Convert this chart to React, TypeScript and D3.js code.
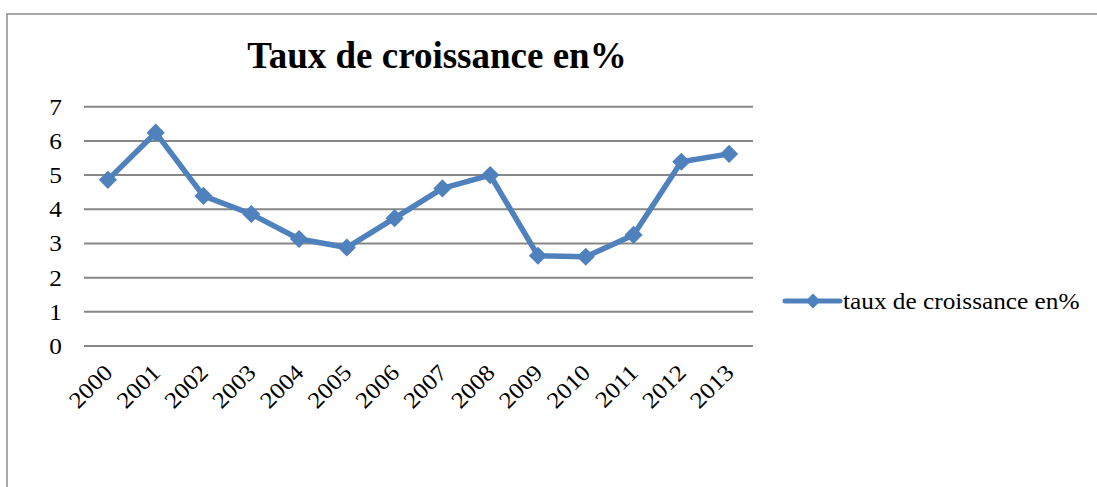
import { useEffect, useRef } from "react";
import * as d3 from "d3";

const years = ["2000", "2001", "2002", "2003", "2004", "2005", "2006", "2007", "2008", "2009", "2010", "2011", "2012", "2013"];
const growth = [4.86, 6.24, 4.39, 3.86, 3.13, 2.88, 3.74, 4.61, 5.0, 2.64, 2.61, 3.25, 5.39, 5.62];
const yTicks = [0, 1, 2, 3, 4, 5, 6, 7];
const title = "Taux de croissance en%";
const seriesName = "taux de croissance en%";

const W = 1097;
const H = 487;
const blue = "#4F81BD";
const font = "'Liberation Serif', 'Times New Roman', serif";

export default function App() {
  const ref = useRef<SVGSVGElement>(null);

  useEffect(() => {
    const svg = d3.select(ref.current);
    svg.selectAll("*").remove();

    const left = 84, right = 753, top = 106.7, bottom = 346;

    const x = d3.scaleBand().domain(years).range([left, right]);
    const y = d3.scaleLinear().domain([0, 7]).range([bottom, top]);

    // outer frame (runs off the right and bottom edge)
    svg.append("rect")
      .attr("x", 7).attr("y", 14)
      .attr("width", 1200).attr("height", 600)
      .attr("fill", "none")
      .attr("stroke", "#8c8c8c")
      .attr("stroke-width", 1.5);

    svg.append("text")
      .attr("x", 437).attr("y", 68)
      .attr("text-anchor", "middle")
      .attr("font-family", font)
      .attr("font-weight", "bold")
      .attr("font-size", 37)
      .text(title);

    // gridlines
    svg.append("g")
      .selectAll("line")
      .data(yTicks)
      .join("line")
      .attr("x1", left).attr("x2", right)
      .attr("y1", d => y(d)).attr("y2", d => y(d))
      .attr("stroke", "#878787")
      .attr("stroke-width", 2);

    svg.append("g")
      .selectAll("text")
      .data(yTicks)
      .join("text")
      .attr("text-anchor", "end")
      .attr("font-family", font)
      .attr("font-size", 23)
      .attr("transform", d => `translate(62,${y(d) + 8}) scale(1.1,1)`)
      .text(d => d);

    svg.append("g")
      .selectAll("text")
      .data(years)
      .join("text")
      .attr("text-anchor", "end")
      .attr("font-family", font)
      .attr("font-size", 23)
      .attr("transform", d => `translate(${x(d)! + x.bandwidth() / 2 + 6},374) rotate(-45) scale(1.1,1)`)
      .text(d => d);

    const cx = (i: number) => x(years[i])! + x.bandwidth() / 2;
    const line = d3.line<number>().x((_, i) => cx(i)).y(d => y(d));

    svg.append("path")
      .datum(growth)
      .attr("d", line)
      .attr("fill", "none")
      .attr("stroke", blue)
      .attr("stroke-width", 5.5)
      .attr("stroke-linejoin", "round");

    const diamond = d3.symbol().type(d3.symbolDiamond2).size(210);

    svg.append("g")
      .selectAll("path")
      .data(growth)
      .join("path")
      .attr("d", diamond)
      .attr("transform", (d, i) => `translate(${cx(i)},${y(d)})`)
      .attr("fill", blue);

    // legend
    const lg = svg.append("g").attr("transform", "translate(785,301)");
    lg.append("line")
      .attr("x1", 0).attr("x2", 55)
      .attr("stroke", blue).attr("stroke-width", 5)
      .attr("stroke-linecap", "round");
    lg.append("path")
      .attr("d", d3.symbol().type(d3.symbolDiamond2).size(140)())
      .attr("transform", "translate(28,0)")
      .attr("fill", blue);
    lg.append("text")
      .attr("font-family", font)
      .attr("font-size", 23)
      .attr("transform", "translate(58,8) scale(1.1,1)")
      .text(seriesName);
  }, []);

  return (
    <svg
      ref={ref}
      width={W}
      height={H}
      style={{ position: "absolute", left: 0, top: 0, background: "#fff" }}
    />
  );
}
